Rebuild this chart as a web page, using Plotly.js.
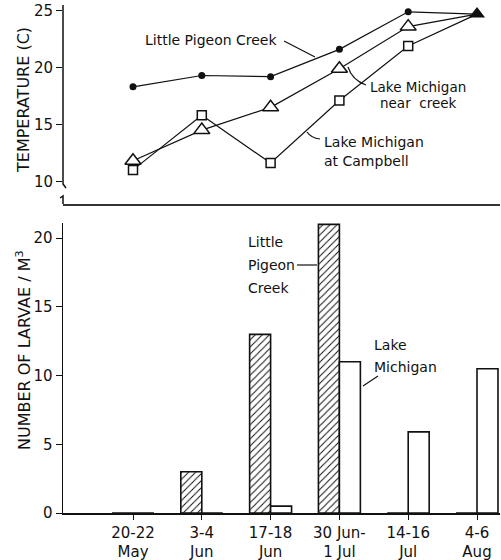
<!DOCTYPE html>
<html>
<head>
<meta charset="utf-8">
<script src="https://cdn.plot.ly/plotly-3.0.1.min.js"></script>
<style>html,body{margin:0;padding:0;background:#fff;}#chart{width:501px;height:560px;}</style>
</head>
<body>
<div id="chart"></div>
<script>
// ---- data ----
const dateLabels = ['20-22<br>May', '3-4<br>Jun', '17-18<br>Jun', '30 Jun-<br>1 Jul', '14-16<br>Jul', '4-6<br>Aug'];
const tempCreek = [18.3, 19.3, 19.2, 21.6, 24.9, 24.7];
const tempLakeNearCreek = [11.8, 14.5, 16.5, 19.9, 23.6, 24.7];
const tempLakeCampbell = [11.0, 15.8, 11.6, 17.1, 21.9, 24.7];
const larvaeCreek = [0, 3, 13, 21, 0, 0];
const larvaeLake = [0, 0, 0.5, 11, 5.9, 10.5];
const tempTicks = [10, 15, 20, 25];
const larvaeTicks = [0, 5, 10, 15, 20];

// ---- helpers (pixel -> paper, plot area 63..500 x 5..513) ----
const L = 63, R = 500, T = 5, B = 513;
const px = x => (x - L) / (R - L);
const py = y => (B - y) / (B - T);

const idx = dateLabels.map((d, i) => i);
const last = idx.length - 1;
const openIdx = idx.slice(0, last);
const FONT = 'DejaVu Sans, Liberation Sans, sans-serif';

const lineStyle = {color: '#111', width: 1.2};
const traces = [
  {x: idx, y: tempCreek, xaxis: 'x', yaxis: 'y', mode: 'lines', line: lineStyle, hoverinfo: 'skip'},
  {x: idx, y: tempLakeNearCreek, xaxis: 'x', yaxis: 'y', mode: 'lines', line: lineStyle, hoverinfo: 'skip'},
  {x: idx, y: tempLakeCampbell, xaxis: 'x', yaxis: 'y', mode: 'lines', line: lineStyle, hoverinfo: 'skip'},
  {x: openIdx, y: tempCreek.slice(0, last), xaxis: 'x', yaxis: 'y', mode: 'markers',
   marker: {symbol: 'circle', size: 7, color: '#111'}},
  {x: openIdx, y: tempLakeNearCreek.slice(0, last), xaxis: 'x', yaxis: 'y', mode: 'markers',
   marker: {symbol: 'triangle-up', size: 14, color: 'white', line: {color: '#111', width: 1.5}}},
  {x: openIdx, y: tempLakeCampbell.slice(0, last), xaxis: 'x', yaxis: 'y', mode: 'markers',
   marker: {symbol: 'square', size: 9, color: 'white', line: {color: '#111', width: 1.5}}},
  {x: [idx[last]], y: [tempCreek[last]], xaxis: 'x', yaxis: 'y', mode: 'markers',
   marker: {symbol: 'triangle-up', size: 14, color: '#111'}},
  {type: 'bar', x: idx, y: larvaeCreek, xaxis: 'x2', yaxis: 'y2', offset: -0.305, width: 0.305,
   marker: {color: 'white', line: {color: '#111', width: 1.6},
            pattern: {shape: '/', fgcolor: '#111', bgcolor: 'white', size: 5, solidity: 0.2}}},
  {type: 'bar', x: idx, y: larvaeLake, xaxis: 'x2', yaxis: 'y2', offset: 0, width: 0.305,
   marker: {color: 'white', line: {color: '#111', width: 1.6}}}
];

const xr = [(L - 133) / 68.8, (R - 133) / 68.8];
const ann = (text, x, y, size) => ({text: text, xref: 'paper', yref: 'paper', x: px(x), y: py(y),
  xanchor: 'left', yanchor: 'middle', showarrow: false, font: {family: FONT, size: size || 14, color: '#111'}});

const layout = {
  width: 501, height: 560,
  margin: {l: L, r: 501 - R, t: T, b: 560 - B},
  paper_bgcolor: 'white', plot_bgcolor: 'white',
  showlegend: false,
  font: {family: FONT, color: '#111'},
  xaxis: {domain: [0, 1], anchor: 'y', range: xr, showline: true, linecolor: '#333', linewidth: 1.5,
          showticklabels: false, ticks: '', showgrid: false, zeroline: false},
  yaxis: {domain: [py(204), 1], range: [8.0, 25.5], tickvals: tempTicks, ticks: 'outside', ticklen: 6,
          tickcolor: '#111', showline: false, showgrid: false, zeroline: false,
          tickfont: {family: FONT, size: 15, color: '#111'}},
  xaxis2: {domain: [0, 1], anchor: 'y2', range: xr, tickvals: idx, ticktext: dateLabels,
           ticks: 'outside', ticklen: 5, tickcolor: '#111', showline: true, linecolor: '#111', linewidth: 1.5,
           showgrid: false, zeroline: false, tickfont: {family: FONT, size: 15, color: '#111'}},
  yaxis2: {domain: [0, py(223)], range: [0, 21.1], tickvals: larvaeTicks, ticks: 'outside', ticklen: 6,
           tickcolor: '#111', showline: true, linecolor: '#111', linewidth: 1.5, showgrid: false,
           zeroline: false, tickfont: {family: FONT, size: 15, color: '#111'}},
  annotations: [
    {text: 'TEMPERATURE (C)', xref: 'paper', yref: 'paper', x: px(23), y: py(100), textangle: -90,
     showarrow: false, xanchor: 'center', yanchor: 'middle', font: {family: FONT, size: 16, color: '#111'}},
    {text: 'NUMBER OF LARVAE / M<sup>3</sup>', xref: 'paper', yref: 'paper', x: px(23), y: py(350), textangle: -90,
     showarrow: false, xanchor: 'center', yanchor: 'middle', font: {family: FONT, size: 16, color: '#111'}},
    ann('Little Pigeon Creek', 143, 40),
    ann('Lake Michigan', 368, 87, 13.5),
    ann('near  creek', 378, 103, 13.5),
    ann('Lake Michigan', 322, 142),
    ann('at Campbell', 322, 161),
    ann('Little', 246, 242),
    ann('Pigeon', 246, 265),
    ann('Creek', 246, 288),
    ann('Lake', 372, 345),
    ann('Michigan', 372, 367)
  ],
  shapes: [
    // top y axis line with break
    {type: 'path', xref: 'paper', yref: 'paper', line: {color: '#111', width: 1.5},
     path: `M ${px(63)} ${py(5)} L ${px(63)} ${py(184)} L ${px(66)} ${py(188)}`},
    {type: 'path', xref: 'paper', yref: 'paper', line: {color: '#111', width: 1.5},
     path: `M ${px(60)} ${py(198)} L ${px(63)} ${py(196)} L ${px(63)} ${py(204)}`},
    // pointers
    {type: 'line', xref: 'paper', yref: 'paper', x0: px(284), y0: py(41), x1: px(315), y1: py(57),
     line: {color: '#111', width: 1.2}},
    {type: 'path', xref: 'paper', yref: 'paper', line: {color: '#111', width: 1.2},
     path: `M ${px(348)} ${py(67)} Q ${px(352)} ${py(80)} ${px(366)} ${py(85)}`},
    {type: 'path', xref: 'paper', yref: 'paper', line: {color: '#111', width: 1.2},
     path: `M ${px(307)} ${py(132)} Q ${px(311)} ${py(138)} ${px(320)} ${py(139)}`},
    {type: 'line', xref: 'paper', yref: 'paper', x0: px(297), y0: py(265), x1: px(317), y1: py(265),
     line: {color: '#111', width: 1.2}},
    {type: 'line', xref: 'paper', yref: 'paper', x0: px(363), y0: py(386), x1: px(378), y1: py(376),
     line: {color: '#111', width: 1.2}}
  ]
};

Plotly.newPlot('chart', traces, layout, {displayModeBar: false, staticPlot: true});
</script>
</body>
</html>
